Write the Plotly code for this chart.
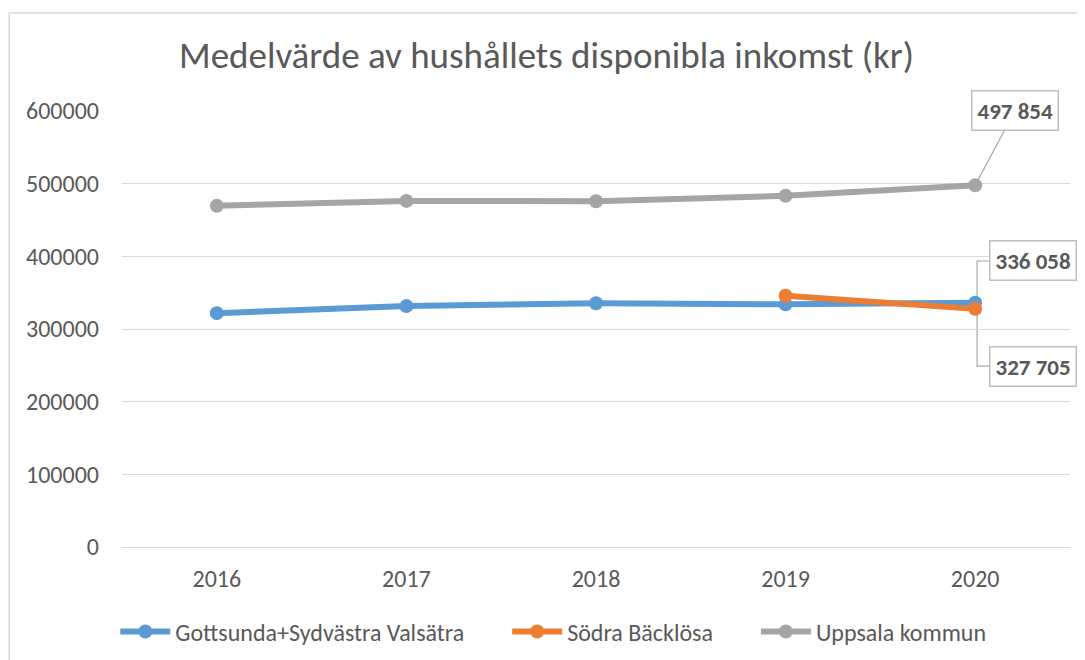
import plotly.graph_objects as go

years = [2016, 2017, 2018, 2019, 2020]
gottsunda = [321800, 331500, 335400, 333900, 336058]
sodra_years = [2019, 2020]
sodra = [345800, 327705]
uppsala = [469500, 476300, 475900, 483200, 497854]

series_names = ["Gottsunda+Sydvästra Valsätra", "Södra Bäcklösa", "Uppsala kommun"]
colors = ["#5b9bd5", "#ed7d31", "#a5a5a5"]

text_color = "#595959"
font_family = "Carlito, Lato, 'Liberation Sans', sans-serif"
pad = "\u00a0" * 7  # extra room between legend entries

fig = go.Figure()

for name, xs, ys, c in zip(series_names,
                           [years, sodra_years, years],
                           [gottsunda, sodra, uppsala],
                           colors):
    fig.add_trace(go.Scatter(
        x=xs, y=ys, mode="lines+markers", name=name + pad,
        line=dict(color=c, width=6),
        marker=dict(color=c, size=14),
    ))

def fmt(v):
    return f"{v:,}".replace(",", " ")

label_style = dict(
    font=dict(size=23, color=text_color, family=font_family),
    bordercolor="#bfbfbf", borderwidth=1.5, bgcolor="white", borderpad=5,
)

# label for Uppsala 2020, straight leader line
fig.add_annotation(
    x=years[-1], y=uppsala[-1], text=f"<b>{fmt(uppsala[-1])}</b>",
    showarrow=True, arrowhead=0, arrowwidth=1.2, arrowcolor="#a6a6a6",
    ax=40, ay=-75, **label_style,
)

# labels for 2020 values with elbow leader lines
for v, label_y in [(gottsunda[-1], 393600), (sodra[-1], 249000)]:
    fig.add_annotation(
        x=2020.074, y=label_y, xanchor="left", yanchor="middle",
        text=f"<b>{fmt(v)}</b>", showarrow=False, **label_style,
    )
    fig.add_shape(
        type="path", xref="x", yref="y",
        path=f"M 2020.01 {v} L 2020.01 {label_y} L 2020.074 {label_y}",
        line=dict(color="#a6a6a6", width=1.2), layer="below",
    )

# outer chart border
fig.add_shape(
    type="rect", xref="paper", yref="paper",
    x0=-0.119, x1=1.05, y0=-0.35, y1=1.2248,
    line=dict(color="#d9d9d9", width=1.5),
)

# page adds an 8px body margin, so the figure is 8px smaller than the window
fig.update_layout(
    width=1077, height=652,
    title=dict(
        text="Medelvärde av hushållets disponibla inkomst (kr)",
        x=0.5, xanchor="center", y=0.928, yanchor="middle",
        font=dict(size=37, color=text_color, family=font_family),
    ),
    font=dict(family=font_family, color=text_color, size=24),
    plot_bgcolor="white", paper_bgcolor="white",
    margin=dict(l=114, r=15, t=103, b=113),
    xaxis=dict(
        range=[2015.5, 2020.5], tickvals=years, ticktext=[str(y) for y in years],
        showgrid=False, showline=False, zeroline=False, ticks="",
        tickfont=dict(size=24, color=text_color), ticklabelstandoff=15,
    ),
    yaxis=dict(
        range=[0, 600000], dtick=100000, tickformat="d",
        gridcolor="#d9d9d9", gridwidth=1.2, zeroline=True,
        zerolinecolor="#d9d9d9", zerolinewidth=1.2, showline=False,
        tickfont=dict(size=24, color=text_color), ticklabelstandoff=22,
    ),
    legend=dict(
        orientation="h", x=0.475, xanchor="center",
        yref="container", y=0.043, yanchor="middle",
        font=dict(size=24, color=text_color), itemwidth=50,
    ),
    showlegend=True,
)

fig.write_html("out.html")
